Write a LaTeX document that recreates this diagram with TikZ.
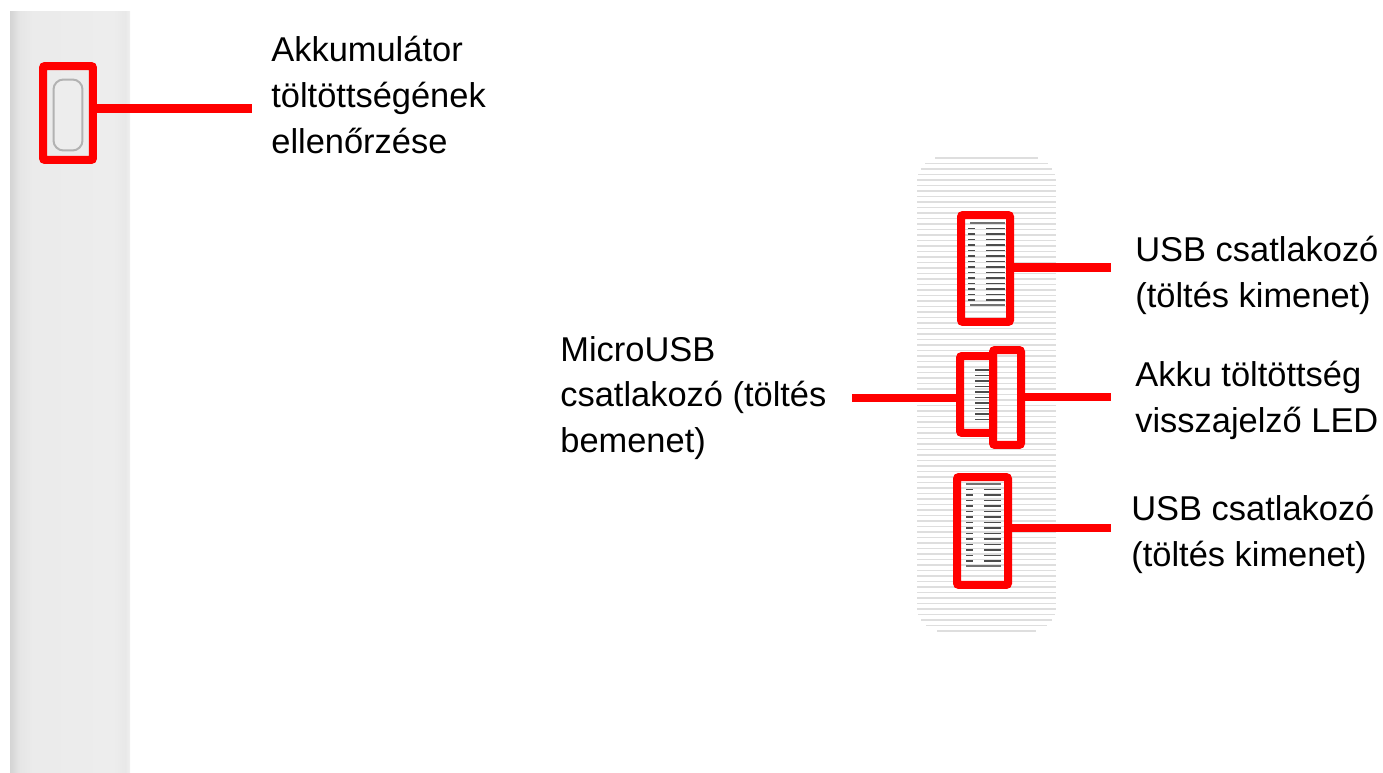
\documentclass[tikz,border=0pt]{standalone}
\usepackage{fontspec}
\setmainfont{Liberation Sans}
\pgfdeclarehorizontalshading{caseside}{100bp}{color(0bp)=(black!17); color(25bp)=(black!17); color(29bp)=(black!10); color(34bp)=(black!8); color(68bp)=(black!7); color(73bp)=(black!9); color(75bp)=(black!6); color(100bp)=(black!6)}
\begin{document}
\begin{tikzpicture}[x=0.02cm,y=-0.02cm,
	marker/.style={draw=red,line width=0.16cm,rounded corners=0.04cm,inner sep=0pt},
	lead/.style={draw=red,line width=0.18cm},
	label/.style={anchor=north west,align=left,inner sep=0pt,font=\fontsize{19.6}{26}\selectfont,text=black},
	slat/.style={draw=black!13,line width=0.025cm},
	pin/.style={draw=black!70,line width=0.035cm}]
\useasboundingbox (0,0) rectangle (1383,773);
% side of the case
\shade[shading=caseside] (10,12) rectangle (130,773);
\node[draw=black!30,fill=black!7,line width=0.04cm,rounded corners=0.2cm,minimum width=0.58cm,minimum height=1.42cm,inner sep=0pt](button) at (68,115){};
% end panel
\foreach \y [evaluate=\y as \d using {25-sqrt(625-min(24.5,max(0,abs(\y-394)-212))^2)}] in {158,163.5,...,632}{
	\draw[slat] ({917+\d},\y) -- ({1056-\d},\y);
}
% ports
\foreach \y in {228.5,234,...,300}{
	\draw[pin] (968,\y) -- (975,\y);
	\draw[pin] (986,\y) -- (1005,\y);
}
\draw[pin,draw=black!55] (970,223) -- (1005,223);
\draw[pin,draw=black!55] (970,305) -- (1005,305);
\foreach \y in {370,375.5,...,420}{
	\draw[pin] (975,\y) -- (989,\y);
}
\foreach \y in {489.5,495,...,561}{
	\draw[pin] (966,\y) -- (973,\y);
	\draw[pin] (984,\y) -- (1001,\y);
}
\draw[pin,draw=black!55] (966,484) -- (1001,484);
\draw[pin,draw=black!55] (966,566) -- (1001,566);
% red frames
\node[marker,minimum width=1cm,minimum height=1.88cm](buttonbox) at (68,113){};
\node[marker,minimum width=0.98cm,minimum height=2.14cm](usbtop) at (985.5,268.5){};
\node[marker,minimum width=0.66cm,minimum height=1.54cm](micro) at (976.5,394.5){};
\node[marker,minimum width=0.56cm,minimum height=1.9cm](led) at (1007,397.5){};
\node[marker,minimum width=1.02cm,minimum height=2.16cm](usblow) at (982.5,531){};
% free ends
\coordinate (buttonend) at (252,109);
\coordinate (usbtopend) at (1111,268);
\coordinate (microend) at (852,398);
\coordinate (ledend) at (1111,397);
\coordinate (usblowend) at (1111,528);
\draw[lead] (buttonbox.east |- buttonend) -- (buttonend);
\draw[lead] (usbtop.east |- usbtopend) -- (usbtopend);
\draw[lead] (micro.west |- microend) -- (microend);
\draw[lead] (led.east |- ledend) -- (ledend);
\draw[lead] (usblow.east |- usblowend) -- (usblowend);
% texts
\node[label](buttontext) at (271,36){Akkumulátor\\töltöttségének\\ellenőrzése};
\node[label](usbtoptext) at (1135,236){USB csatlakozó\\(töltés kimenet)};
\node[label](microtext) at (560,336){MicroUSB\\csatlakozó (töltés\\bemenet)};
\node[label](ledtext) at (1135,361){Akku töltöttség\\visszajelző LED};
\node[label](usblowtext) at (1131,495){USB csatlakozó\\(töltés kimenet)};
\end{tikzpicture}
\end{document}
